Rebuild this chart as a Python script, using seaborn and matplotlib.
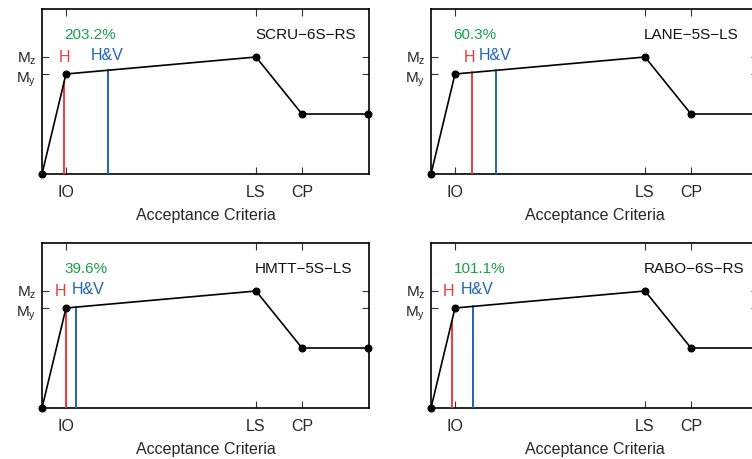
import numpy as np
import matplotlib
matplotlib.use("Agg")
import matplotlib.pyplot as plt
import matplotlib.transforms as mtransforms
import seaborn as sns

sns.set_theme(style="ticks")
plt.rcParams['font.family'] = ['Liberation Sans', 'DejaVu Sans']
plt.rcParams['mathtext.default'] = 'regular'

# backbone curve (normalized): origin, IO (yield), LS (peak), CP (residual), end
curve_x = [0.0, 0.24, 2.14, 2.60, 3.26]
curve_y = [0.0, 1.00, 1.17, 0.60, 0.60]

names = ["SCRU\u22126S\u2212RS", "LANE\u22125S\u2212LS", "HMTT\u22125S\u2212LS", "RABO\u22126S\u2212RS"]
percents = ["203.2%", "60.3%", "39.6%", "101.1%"]
h_x = [0.22, 0.41, 0.24, 0.21]
hv_x = [0.66, 0.65, 0.34, 0.42]
pct_x = [0.48, 0.44, 0.44, 0.49]
hlab_x = [0.22, 0.385, 0.19, 0.18]
hvlab_x = [0.65, 0.64, 0.46, 0.46]

xtick_pos = [0.24, 2.14, 2.60]
xtick_labels = ["IO", "LS", "CP"]
ytick_pos = [1.00, 1.17]
ytick_labels = ["M$_y$", "M$_z$"]

RED = "#ee3b3f"
BLUE = "#1f64b8"
GREEN = "#17a04a"

fig = plt.figure(figsize=(7.52, 4.60), dpi=100)
W, H = 752, 460
positions = [(42, 10), (431, 10), (42, 244), (431, 244)]
aw, ah = 327, 165

for i in range(4):
    l, t = positions[i]
    ax = fig.add_axes([l / W, (H - t - ah) / H, aw / W, ah / H])
    ax.set_xlim(0, 3.27)
    ax.set_ylim(0, 1.65)
    sns.lineplot(x=curve_x, y=curve_y, ax=ax, color="black", linewidth=1.2,
                 marker="o", markersize=5, markeredgecolor="black", clip_on=False, zorder=5)
    yh = np.interp(h_x[i], curve_x, curve_y)
    yhv = np.interp(hv_x[i], curve_x, curve_y)
    ax.plot([h_x[i], h_x[i]], [0, yh], color=RED, linewidth=1.4, zorder=3)
    ax.plot([hv_x[i], hv_x[i]], [0, yhv], color=BLUE, linewidth=1.4, zorder=3)
    ax.text(pct_x[i], 1.40, percents[i], color=GREEN, fontsize=11, ha="center", va="center")
    ax.text(hlab_x[i], 1.175, "H", color=RED, fontsize=11.5, ha="center", va="center")
    ax.text(hvlab_x[i], 1.195, "H&V", color=BLUE, fontsize=11.5, ha="center", va="center")
    ax.text(2.13, 1.40, names[i], color="#111111", fontsize=11, ha="left", va="center")

    ax.set_xticks(xtick_pos)
    ax.set_xticklabels(xtick_labels)
    ax.set_yticks(ytick_pos)
    ax.set_yticklabels(ytick_labels)
    ax.tick_params(axis="both", direction="in", length=5, width=0.8, color="#333333",
                   top=True, right=True, labelsize=11.5, pad=7)
    ax.tick_params(axis="y", pad=4, labelsize=11)
    # nudge the two close y labels apart slightly
    ylabs = ax.get_yticklabels()
    for lab, dy in zip(ylabs, [-1.5, 1.5]):
        lab.set_transform(lab.get_transform() +
                          mtransforms.ScaledTranslation(0, dy / 100, fig.dpi_scale_trans))
    ax.set_xlabel("Acceptance Criteria", fontsize=11.5, labelpad=6)
    ax.set_ylabel("")
    for s in ax.spines.values():
        s.set_linewidth(1.2)
        s.set_color("black")
    ax.grid(False)

fig.savefig("out.png", dpi=100)
